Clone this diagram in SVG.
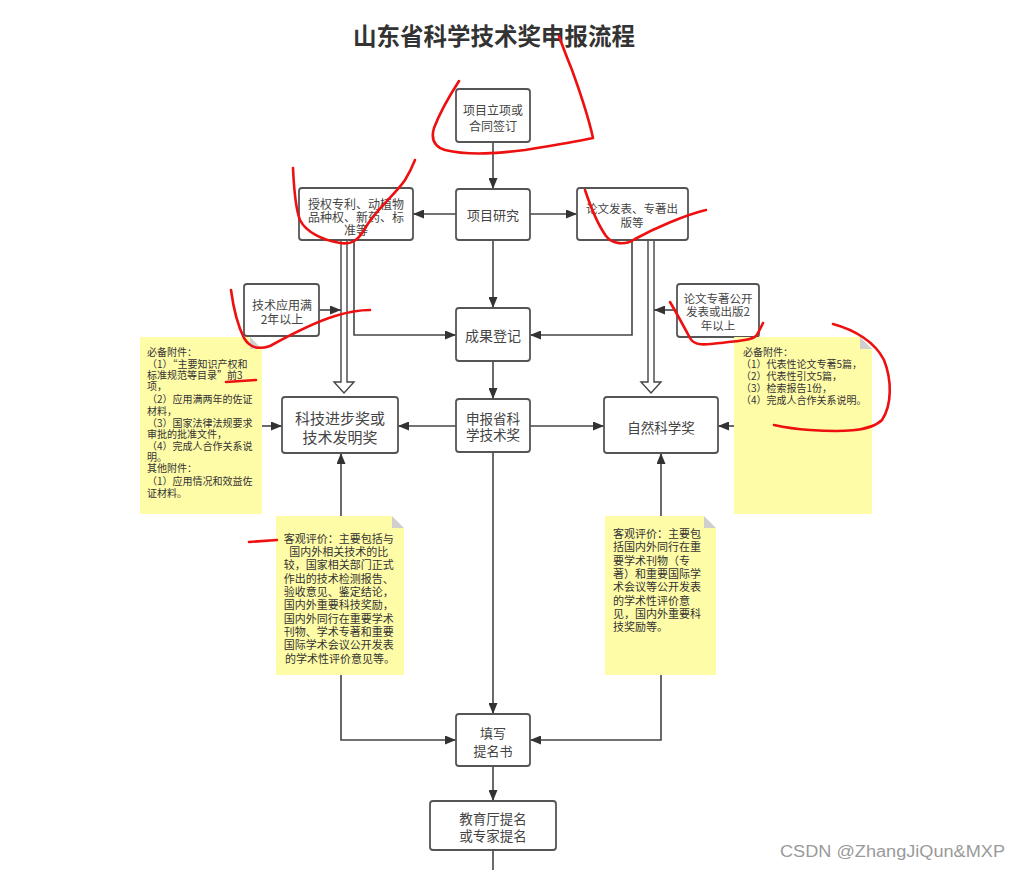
<svg xmlns="http://www.w3.org/2000/svg" width="1020" height="870" viewBox="0 0 1020 870">
<style>
.box{fill:#fff;stroke:#555;stroke-width:1.8}
.t{font-family:"Noto Sans CJK SC","Noto Sans",sans-serif;fill:#444;text-anchor:middle;dominant-baseline:central}
.nt{font-family:"Noto Sans CJK SC","Noto Sans",sans-serif;fill:#333;dominant-baseline:central}
.note{fill:#fffca8}
.fold{fill:#cfcfcf}
.c{fill:none;stroke:#444;stroke-width:1.6}
.ca{fill:none;stroke:#444;stroke-width:1.6;marker-end:url(#ah)}
.hol{fill:#fff;stroke:#444;stroke-width:1.4}
.red{fill:none;stroke:#ee1010;stroke-width:2.6;stroke-linecap:round;stroke-linejoin:round}
</style>
<defs>
<marker id="ah" markerUnits="userSpaceOnUse" markerWidth="11" markerHeight="9" refX="11" refY="4.5" orient="auto">
<path d="M0,0 L11,4.5 L0,9 z" fill="#333"/>
</marker>
</defs>
<rect width="1020" height="870" fill="#fff"/>
<text x="494" y="35" class="t" style="font-size:23.5px;font-weight:bold;fill:#333">山东省科学技术奖申报流程</text>

<g id="connectors">
<line class="ca" x1="493" y1="142" x2="493" y2="189"/>
<line class="ca" x1="456" y1="214" x2="413" y2="214"/>
<line class="ca" x1="530" y1="214" x2="577" y2="214"/>
<line class="ca" x1="493" y1="240" x2="493" y2="308"/>
<polyline class="ca" points="354,240 354,335 456,335"/>
<polyline class="ca" points="632,240 632,335 530,335"/>
<path class="hol" d="M341,240 V382 H334 L344,393 L354,382 H347 V240"/>
<path class="hol" d="M648,240 V382 H641 L651,393 L661,382 H654 V240"/>
<line class="ca" x1="319" y1="310" x2="341" y2="310"/>
<line class="ca" x1="677" y1="310" x2="654" y2="310"/>
<line class="ca" x1="493" y1="361" x2="493" y2="399"/>
<line class="ca" x1="456" y1="426" x2="398" y2="426"/>
<line class="ca" x1="530" y1="426" x2="604" y2="426"/>
<line class="ca" x1="493" y1="452" x2="493" y2="714"/>
<line class="ca" x1="262" y1="426" x2="282" y2="426"/>
<line class="ca" x1="734" y1="426" x2="718" y2="426"/>
<line class="ca" x1="341" y1="516" x2="341" y2="453"/>
<line class="ca" x1="661" y1="516" x2="661" y2="453"/>
<polyline class="ca" points="341,675 341,740 456,740"/>
<polyline class="ca" points="661,675 661,740 530,740"/>
<line class="ca" x1="493" y1="766" x2="493" y2="801"/>
<line class="c" x1="493" y1="850" x2="493" y2="870"/>
</g>

<g id="n-start">
<rect class="box" x="456" y="89" width="74" height="53" rx="3"/>
<text class="t" x="493" y="109" style="font-size:12px">项目立项或</text>
<text class="t" x="493" y="125" style="font-size:12px">合同签订</text>
</g>
<g id="n-research">
<rect class="box" x="456" y="189" width="74" height="51" rx="3"/>
<text class="t" x="493" y="214" style="font-size:13px">项目研究</text>
</g>
<g id="n-patent">
<rect class="box" x="299" y="188" width="114" height="52" rx="3"/>
<text class="t" x="356" y="203" style="font-size:12px">授权专利、动植物</text>
<text class="t" x="356" y="216" style="font-size:12px">品种权、新药、标</text>
<text class="t" x="356" y="229" style="font-size:12px">准等</text>
</g>
<g id="n-paper">
<rect class="box" x="577" y="188" width="111" height="52" rx="3"/>
<text class="t" x="632" y="208" style="font-size:11.5px">论文发表、专著出</text>
<text class="t" x="632" y="222" style="font-size:11.5px">版等</text>
</g>
<g id="n-apply2">
<rect class="box" x="244" y="284" width="75" height="52" rx="3"/>
<text class="t" x="282" y="304" style="font-size:12px">技术应用满</text>
<text class="t" x="282" y="318" style="font-size:12px">2年以上</text>
</g>
<g id="n-register">
<rect class="box" x="456" y="308" width="74" height="53" rx="3"/>
<text class="t" x="493" y="335" style="font-size:14px">成果登记</text>
</g>
<g id="n-pub2">
<rect class="box" x="677" y="284" width="82" height="53" rx="3"/>
<text class="t" x="718" y="298" style="font-size:11.5px">论文专著公开</text>
<text class="t" x="718" y="311" style="font-size:11.5px">发表或出版2</text>
<text class="t" x="718" y="325" style="font-size:11.5px">年以上</text>
</g>
<g id="n-progress">
<rect class="box" x="282" y="397" width="116" height="56" rx="3"/>
<text class="t" x="340" y="417" style="font-size:15px">科技进步奖或</text>
<text class="t" x="340" y="436" style="font-size:15px">技术发明奖</text>
</g>
<g id="n-apply">
<rect class="box" x="456" y="399" width="74" height="53" rx="3"/>
<text class="t" x="493" y="418" style="font-size:13.5px">申报省科</text>
<text class="t" x="493" y="434" style="font-size:13.5px">学技术奖</text>
</g>
<g id="n-natural">
<rect class="box" x="604" y="397" width="114" height="56" rx="3"/>
<text class="t" x="661" y="427" style="font-size:13.5px">自然科学奖</text>
</g>
<g id="n-fill">
<rect class="box" x="456" y="714" width="74" height="52" rx="3"/>
<text class="t" x="493" y="732" style="font-size:13px">填写</text>
<text class="t" x="493" y="750" style="font-size:13px">提名书</text>
</g>
<g id="n-nominate">
<rect class="box" x="430" y="801" width="126" height="49" rx="3"/>
<text class="t" x="493" y="818" style="font-size:13.5px">教育厅提名</text>
<text class="t" x="493" y="835" style="font-size:13.5px">或专家提名</text>
</g>

<g id="note-left">
<path class="note" d="M140,337 H250 L262,349 V514 H140 Z"/>
<path class="fold" d="M250,337 L262,349 H250 Z"/>
<text class="nt" x="147" style="font-size:10px">
<tspan x="147" y="351">必备附件：</tspan>
<tspan x="147" y="363">（1）“主要知识产权和</tspan>
<tspan x="147" y="374">标准规范等目录”前3</tspan>
<tspan x="147" y="385">项，</tspan>
<tspan x="147" y="398">（2）应用满两年的佐证</tspan>
<tspan x="147" y="410">材料，</tspan>
<tspan x="147" y="422">（3）国家法律法规要求</tspan>
<tspan x="147" y="433">审批的批准文件，</tspan>
<tspan x="147" y="445">（4）完成人合作关系说</tspan>
<tspan x="147" y="456">明。</tspan>
<tspan x="147" y="467">其他附件：</tspan>
<tspan x="147" y="480">（1）应用情况和效益佐</tspan>
<tspan x="147" y="492">证材料。</tspan>
</text>
</g>
<g id="note-right">
<path class="note" d="M734,337 H860 L872,349 V514 H734 Z"/>
<path class="fold" d="M860,337 L872,349 H860 Z"/>
<text class="nt" style="font-size:10px">
<tspan x="743" y="351">必备附件：</tspan>
<tspan x="741" y="363">（1）代表性论文专著5篇，</tspan>
<tspan x="741" y="375">（2）代表性引文5篇，</tspan>
<tspan x="741" y="387">（3）检索报告1份，</tspan>
<tspan x="741" y="399">（4）完成人合作关系说明。</tspan>
</text>
</g>
<g id="note-lower-left">
<path class="note" d="M276,516 H392 L404,528 V675 H276 Z"/>
<path class="fold" d="M392,516 L404,528 H392 Z"/>
<text class="t" style="font-size:11px;fill:#333">
<tspan x="340" y="538">客观评价：主要包括与</tspan>
<tspan x="340" y="551">国内外相关技术的比</tspan>
<tspan x="340" y="564">较，国家相关部门正式</tspan>
<tspan x="340" y="578">作出的技术检测报告、</tspan>
<tspan x="340" y="591">验收意见、鉴定结论，</tspan>
<tspan x="340" y="604">国内外重要科技奖励，</tspan>
<tspan x="340" y="618">国内外同行在重要学术</tspan>
<tspan x="340" y="631">刊物、学术专著和重要</tspan>
<tspan x="340" y="644">国际学术会议公开发表</tspan>
<tspan x="340" y="658">的学术性评价意见等。</tspan>
</text>
</g>
<g id="note-lower-right">
<path class="note" d="M605,516 H704 L716,528 V675 H605 Z"/>
<path class="fold" d="M704,516 L716,528 H704 Z"/>
<text class="nt" style="font-size:11px">
<tspan x="613" y="533">客观评价：主要包</tspan>
<tspan x="613" y="546">括国内外同行在重</tspan>
<tspan x="613" y="560">要学术刊物（专</tspan>
<tspan x="613" y="573">著）和重要国际学</tspan>
<tspan x="613" y="586">术会议等公开发表</tspan>
<tspan x="613" y="600">的学术性评价意</tspan>
<tspan x="613" y="613">见，国内外重要科</tspan>
<tspan x="613" y="626">技奖励等。</tspan>
</text>
</g>

<g id="annotations">
<path class="red" d="M459,81 C450,95 440,112 434,128 C431,138 433,146 445,150 C470,156 500,153 525,150 C550,146 575,142 593,138 C588,115 580,92 572,70 C566,55 562,45 559,36"/>
<path class="red" d="M293,168 C294,190 296,210 300,220 C306,232 322,240 340,243 C352,245 358,240 364,230 C375,210 395,195 405,180 C410,172 413,165 415,160"/>
<path class="red" d="M585,190 C590,205 596,222 606,236 C612,244 625,246 635,239 C655,228 685,215 706,210"/>
<path class="red" d="M231,290 C233,305 236,322 244,338 C250,348 258,350 270,346 C290,335 315,322 335,316 C348,312 360,310 370,310"/>
<path class="red" d="M670,302 C676,312 683,325 690,338 C694,346 705,345 720,343 C740,341 752,340 756,336 C759,332 761,327 763,323"/>
<path class="red" d="M833,324 C855,330 875,342 884,360 C892,380 892,405 882,420 C870,432 840,432 810,430 C795,429 783,427 774,425"/>
<path class="red" d="M226,382 L256,380"/>
<path class="red" d="M249,542 L277,540"/>
</g>

<text x="780" y="851" style="font-family:'Liberation Sans',sans-serif;font-size:16px;fill:#9a9a9a;dominant-baseline:central" textLength="225" lengthAdjust="spacingAndGlyphs">CSDN @ZhangJiQun&amp;MXP</text>
</svg>
